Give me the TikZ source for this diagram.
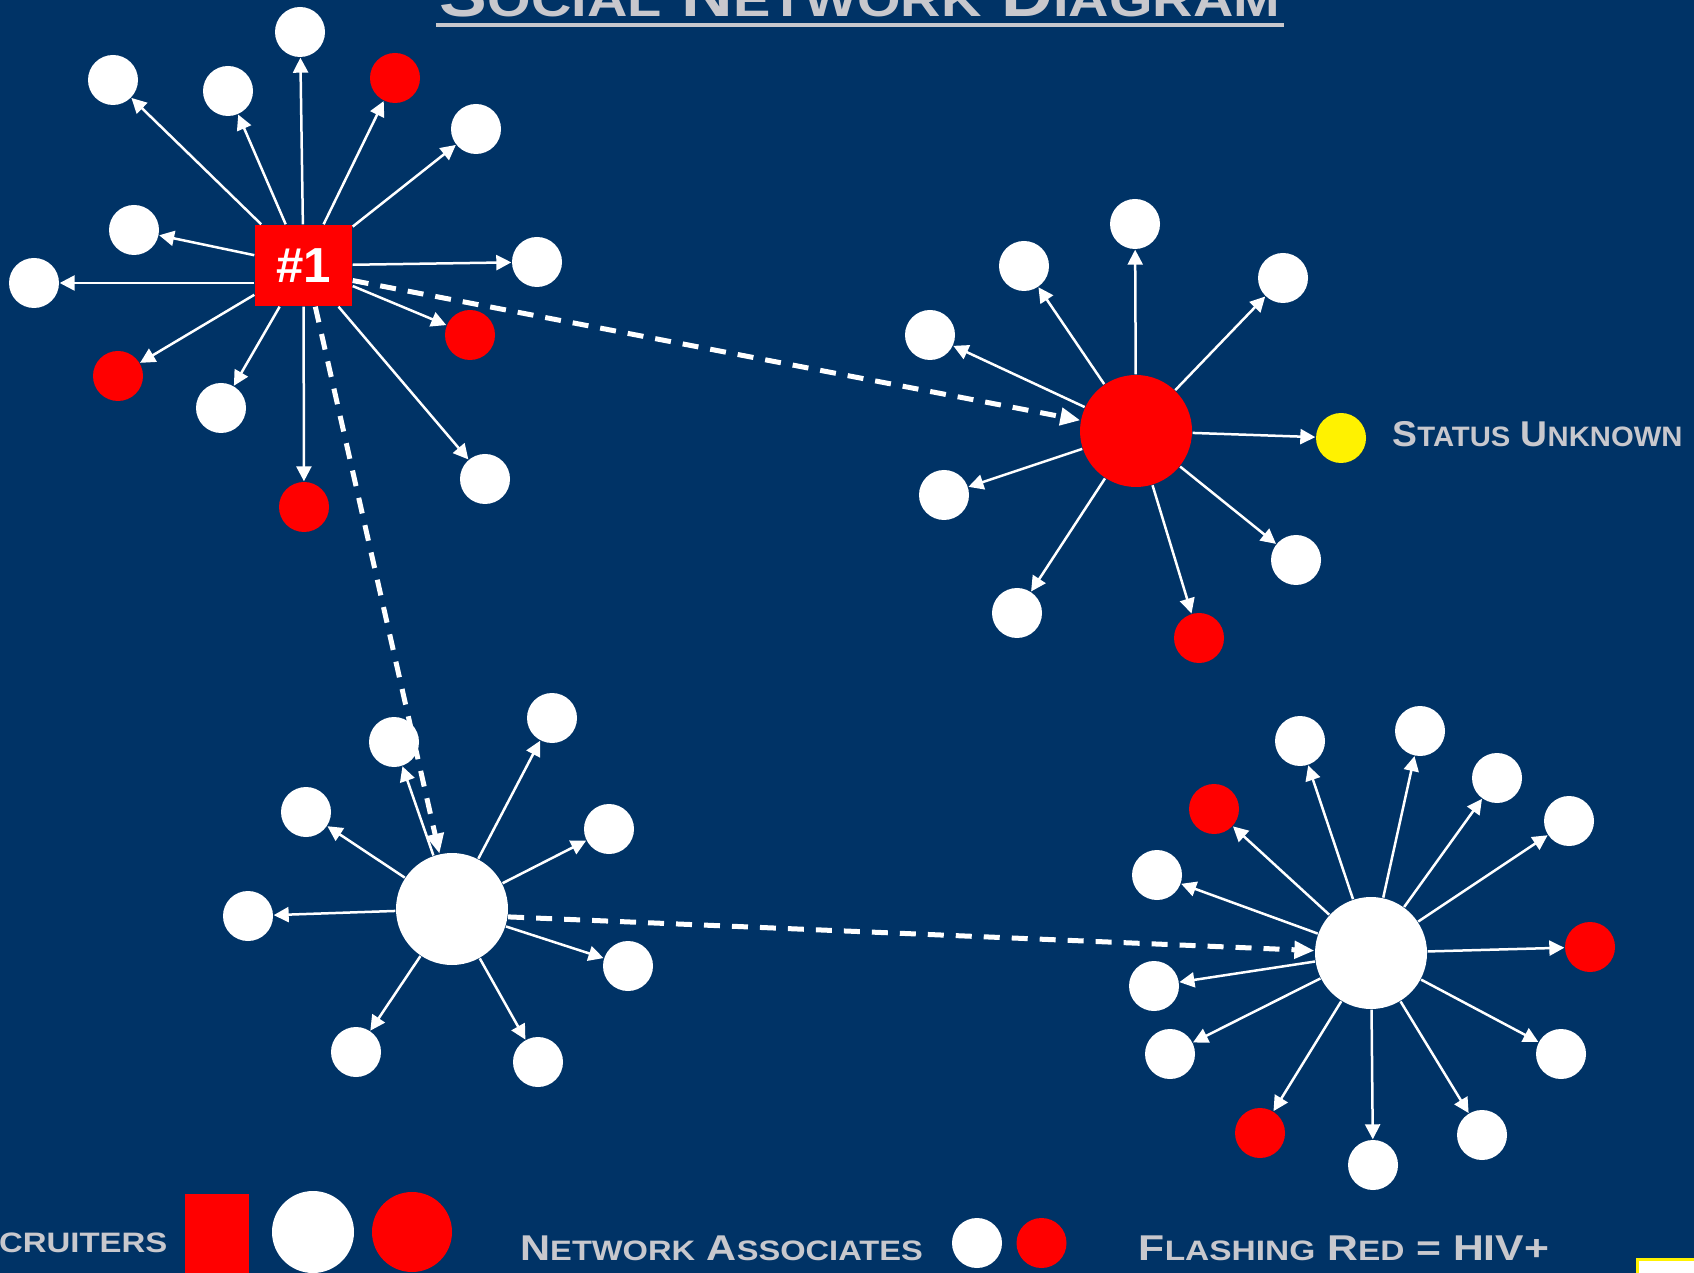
\documentclass[tikz,border=0pt]{standalone}
\usepackage{fontspec}
\setsansfont{Liberation Sans}
\usetikzlibrary{arrows.meta}
\definecolor{navy}{RGB}{0,51,102}
\definecolor{silver}{RGB}{200,200,205}
\tikzset{>={Triangle[length=1.5mm,width=1.5mm]}}
\tikzset{
  assoc/.style={circle,fill=white,minimum size=5mm,inner sep=0pt},
  hub/.style={circle,fill=white,minimum size=11.2mm,inner sep=0pt},
  link/.style={->,white,line width=0.25mm},
  tie/.style={-{Triangle[length=2mm,width=1.7mm]},white,line width=0.5mm,dash pattern=on 1.6mm off 1.2mm},
  legend/.style={text=silver,font=\sffamily\bfseries\fontsize{10.2}{12}\selectfont,inner sep=0pt}
}
\newcommand{\capword}[3][8]{#2{\fontsize{#1}{#1}\selectfont #3}}
\begin{document}
\begin{tikzpicture}[x=0.1mm,y=-0.1mm]
\useasboundingbox (0,0) rectangle (1694,1273);
\fill[navy] (0,0) rectangle (1694,1273);
\node[legend,anchor=base,font=\sffamily\bfseries\fontsize{17.4}{20}\selectfont] (title) at (860,17)
  {\scalebox{1.17}[1]{\capword[13.6]{S}{OCIAL} \capword[13.6]{N}{ETWORK} \capword[13.6]{D}{IAGRAM}}};
\draw[silver,line width=0.4mm] (436,24.7) -- (1284,24.7);

\node[fill=red,minimum width=9.7mm,minimum height=8.1mm,inner sep=0pt,text=white,
  font=\sffamily\bfseries\fontsize{14}{14}\selectfont] (r1) at (303.5,265.5) {\#1};
\foreach \x/\y/\c [count=\i] in {113/80/white,228/91/white,300/32/white,395/78/red,
  476/129/white,134/230/white,34/283/white,537/262/white,470/335/red,118/376/red,
  221/408/white,304/507/red,485/479/white}{
  \node[assoc,fill=\c] (a\i) at (\x,\y) {};
  \ifnum\i=7 \draw[link] (r1.west |- a\i) -- (a\i);
  \else \draw[link] (r1) -- (a\i); \fi
}

\node[hub,fill=red] (h2) at (1136,431) {};
\foreach \x/\y/\c [count=\i] in {1024/266/white,1135/224/white,1283/278/white,
  930/335/white,944/495/white,1341/438/yellow,1296/560/white,1017/613/white,1199/638/red}{
  \node[assoc,fill=\c] (b\i) at (\x,\y) {};
  \draw[link] (h2) -- (b\i);
}
\node[legend,anchor=base west] (unknown) at (1391.7,446.7)
  {\scalebox{1.04}[1]{\capword{S}{TATUS} \capword{U}{NKNOWN}}};

\node[hub] (h3) at (452,909) {};
\foreach \x/\y/\c [count=\i] in {394/742/white,552/718/white,306/812/white,
  609/829/white,248/916/white,628/966/white,356/1052/white,538/1062/white}{
  \node[assoc,fill=\c] (c\i) at (\x,\y) {};
  \draw[link] (h3) -- (c\i);
}

\node[hub] (h4) at (1371,953) {};
\foreach \x/\y/\c [count=\i] in {1300/741/white,1420/731/white,1497/778/white,
  1214/809/red,1569/821/white,1157/875/white,1590/947/red,1154/986/white,
  1170/1054/white,1561/1054/white,1260/1133/red,1482/1135/white,1373/1165/white}{
  \node[assoc,fill=\c] (d\i) at (\x,\y) {};
  \draw[link] (h4) -- (d\i);
}

\draw[tie] (r1.-17) -- (h2);
\draw[tie] (r1.-74) -- (h3);
\draw[tie] (h3.-8) -- (h4);

\node[legend,anchor=base east] (recruiters) at (168,1252)
  {\scalebox{1.17}[1]{\fontsize{8}{8}\selectfont CRUITERS}};
\node[fill=red,minimum width=6.4mm,minimum height=9mm,inner sep=0pt,anchor=north west] (keysq) at (184.7,1192.8) {};
\node[circle,fill=white,minimum size=8.2mm,inner sep=0pt] (keyw) at (313,1232) {};
\node[circle,fill=red,minimum size=8mm,inner sep=0pt] (keyr) at (412,1232) {};
\node[legend,anchor=base west] (associates) at (519.5,1260)
  {\scalebox{1.16}[1]{\capword{N}{ETWORK} \capword{A}{SSOCIATES}}};
\node[assoc] (keyaw) at (977,1243) {};
\node[assoc,fill=red] (keyar) at (1041.5,1243) {};
\node[legend,anchor=base west] (hiv) at (1138,1260)
  {\scalebox{1.19}[1]{\capword{F}{LASHING} \capword{R}{ED} = HIV+}};
\draw[yellow,line width=0.3mm,fill=white] (1637,1259.5) rectangle (1720,1300);
\end{tikzpicture}
\end{document}
